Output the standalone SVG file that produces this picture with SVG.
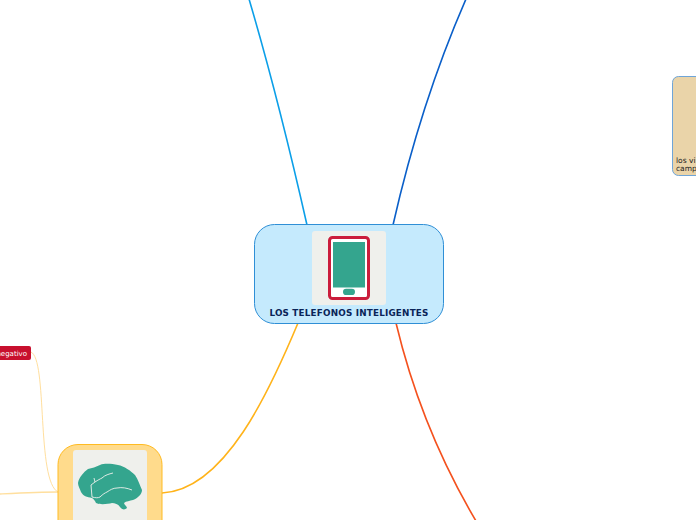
<svg xmlns="http://www.w3.org/2000/svg" width="696" height="520" viewBox="0 0 696 520">
<style>
.c{fill:none;stroke-linecap:round}
text{font-family:"DejaVu Sans",sans-serif}
</style>
<rect width="696" height="520" fill="#ffffff"/>
<g id="connectors">
<path class="c" d="M249 -1C270 70 290 150 307 225" stroke="#0b9fe8" stroke-width="1.600"/>
<path class="c" d="M466 -1C435 70 410 150 393 225" stroke="#0a5fc9" stroke-width="1.600"/>
<path class="c" d="M298 323C270 390 225 490 162 493" stroke="#ffb31a" stroke-width="1.600"/>
<path class="c" d="M396 323C412 390 440 460 476 521" stroke="#f4511e" stroke-width="1.600"/>
<path class="c" d="M31 352C48 358 36 482 58 492" stroke="#ffdf9e" stroke-width="1"/>
<path class="c" d="M-1 494C20 493 40 492 58 492" stroke="#ffdf9e" stroke-width="1.400"/>
</g>
<g id="root">
<rect x="254.500" y="224.500" width="189" height="99" rx="20" fill="#c5eafd" stroke="#2f8fd6" stroke-width="1"/>
<rect x="312" y="231" width="74" height="74" rx="3" fill="#eff0ec"/>
<rect x="329.500" y="237.500" width="39" height="61" rx="3" fill="#ffffff" stroke="#cb1d3c" stroke-width="3"/>
<rect x="333" y="242" width="32" height="45.500" fill="#34a58e"/>
<rect x="343" y="288.800" width="12" height="6.200" rx="3.100" fill="#34a58e"/>
<text x="349" y="316" font-size="8.800" font-weight="700" letter-spacing="0.200" fill="#0a2458" text-anchor="middle">LOS TELEFONOS INTELIGENTES</text>
</g>
<g id="brain-node">
<rect x="58" y="444.500" width="104" height="100" rx="20" fill="#ffdb8c" stroke="#ffbb22" stroke-width="1"/>
<rect x="73" y="450" width="74" height="80" rx="3" fill="#eff0ec"/>
<path d="M78 483C79 477 84 472 88 469C92 468 96 467 100 465C105 463 112 464 118 465C124 466 131 471 135 475C138 479 140 486 142 490C142 494 138 498 133 500C130 501 126 501 124 503C124 505 127 506 127 508C125 510 122 510 120 507C118 504 115 503 112 503C108 504 100 505 96 503C95 501 94 499 92 498C87 497 83 496 81 492C80 489 78 486 78 483Z" fill="#34a58e"/>
<path d="M95 482C98 480 100 479 102 478C105 475 109 474 113 473M91 485L95 482L94 478M92 497C96 498 98 498 100 497C103 494 105 493 107 492C110 490 113 488 117 488C122 487 127 488 132 490M91 485L92 497" fill="none" stroke="#eff0ec" stroke-width="0.900"/>
</g>
<g id="negativo-node">
<rect x="-30" y="346" width="61" height="14" rx="2" fill="#c8102e"/>
<text x="27" y="356" font-size="7" fill="#ffffff" text-anchor="end">negativo</text>
</g>
<g id="video-node">
<rect x="672.500" y="76.500" width="60" height="99" rx="6" fill="#ead4a9" stroke="#6fa5d8" stroke-width="1"/>
<text x="676" y="163" font-size="7.500" fill="#222222">los vi</text>
<text x="676" y="171" font-size="7.500" fill="#222222">camp</text>
</g>
</svg>
